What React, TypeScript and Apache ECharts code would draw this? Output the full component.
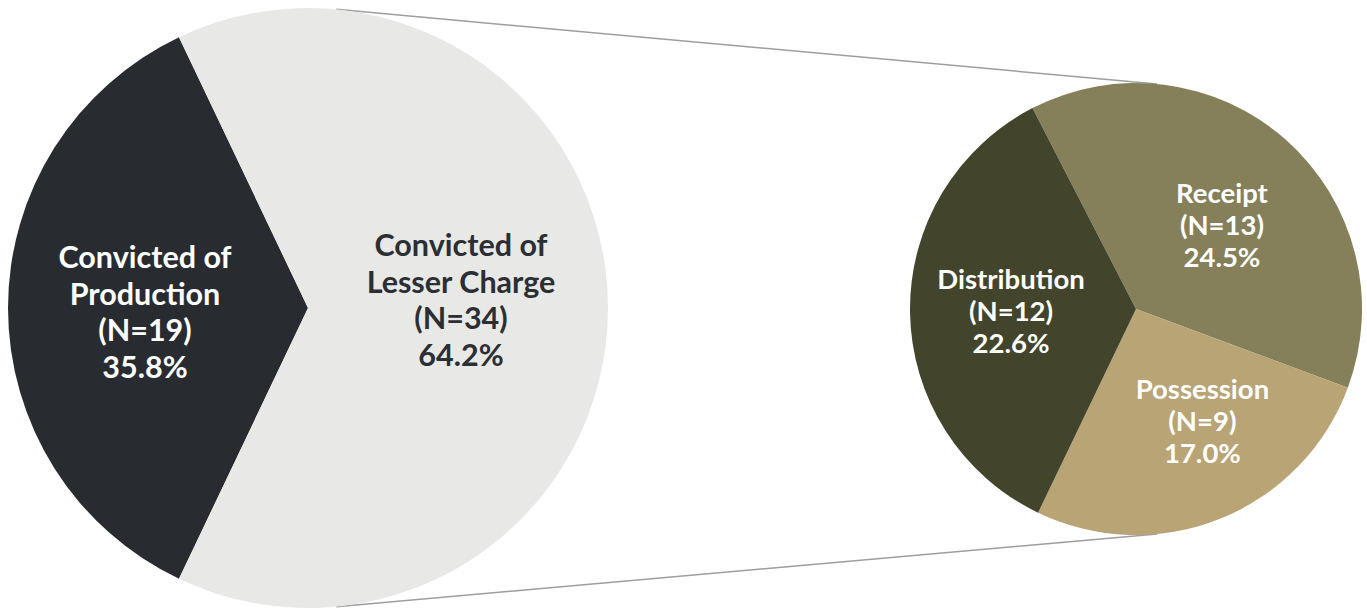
import React, { useEffect, useRef } from "react";
import * as echarts from "echarts";

const leftCategories = ["Convicted of\nProduction", "Convicted of\nLesser Charge"];
const leftValues = [19, 34];
const rightCategories = ["Receipt", "Possession", "Distribution"];
const rightValues = [13, 9, 12];

const leftColors = ["#282c30", "#e8e8e6"];
const leftLabelColors = ["#ffffff", "#2b2f33"];
const rightColors = ["#858059", "#b8a474", "#42442c"];

export default function App() {
  const ref = useRef<HTMLDivElement>(null);
  useEffect(() => {
    if (!ref.current) return;
    const chart = echarts.init(ref.current, null, { renderer: "svg" });
    const total = leftValues.reduce((a, b) => a + b, 0);
    const body = (p: any) => `${p.name}\n(N=${p.value})\n${((p.value / total) * 100).toFixed(1)}%`;
    const mkFmt = (shifts: number[]) => (p: any) => {
      const d = shifts[p.dataIndex] || 0;
      if (d > 0) return `{sp|}\n${body(p)}`;
      if (d < 0) return `${body(p)}\n{sp|}`;
      return body(p);
    };

    const L = { cx: 308, cy: 308, r: 300 };
    const R = { cx: 1136, cy: 309, r: 226 };
    const connAngle = (84.6 * Math.PI) / 180;
    const pt = (c: any, sign: number) => [c.cx + c.r * Math.cos(connAngle), c.cy - sign * c.r * Math.sin(connAngle)];
    const lt = pt(L, 1), lb = pt(L, -1), rt = pt(R, 1), rb = pt(R, -1);

    const leftStart = 180 + (leftValues[0] / total) * 180;
    const rightTotal = rightValues.reduce((a, b) => a + b, 0);
    const rightStart = 180 - (rightValues[2] / rightTotal) * 180 + 0.8;

    const leftPads = [[0, 20, 0, 0], [0, 0, 0, 0]];
    const leftShiftY = [3, -9];
    const rightPads = [[0, 0, 0, 18], [0, 0, 0, 46], [0, 18, 0, 0]];
    const rightShiftY = [2, 4, 0];

    chart.setOption({
      animation: false,
      graphic: [
        { type: "line", z: 0, shape: { x1: lt[0], y1: lt[1], x2: rt[0], y2: rt[1] }, style: { stroke: "#9e9e9e", lineWidth: 1.5 } },
        { type: "line", z: 0, shape: { x1: lb[0], y1: lb[1], x2: rb[0], y2: rb[1] }, style: { stroke: "#9e9e9e", lineWidth: 1.5 } },
      ],
      series: [
        {
          type: "pie",
          center: [L.cx, L.cy],
          radius: [0, L.r],
          startAngle: leftStart,
          clockwise: true,
          silent: true,
          labelLine: { show: false },
          label: {
            position: "inside",
            formatter: mkFmt(leftShiftY),
            fontFamily: "Lato",
            fontWeight: "bold",
            fontSize: 30.5,
            lineHeight: 36.5,
            align: "center",
          },
          data: leftValues.map((v, i) => ({
            name: leftCategories[i],
            value: v,
            itemStyle: { color: leftColors[i] },
            label: {
              color: leftLabelColors[i],
              padding: leftPads[i],
              rich: { sp: { lineHeight: Math.abs(leftShiftY[i]) * 2, fontSize: 1 } },
            },
          })),
        },
        {
          type: "pie",
          center: [R.cx, R.cy],
          radius: [0, R.r],
          startAngle: rightStart,
          clockwise: true,
          silent: true,
          labelLine: { show: false },
          label: {
            position: "inside",
            formatter: mkFmt(rightShiftY),
            fontFamily: "Lato",
            fontWeight: "bold",
            fontSize: 27.5,
            lineHeight: 32,
            color: "#ffffff",
            align: "center",
          },
          data: rightValues.map((v, i) => ({
            name: rightCategories[i],
            value: v,
            itemStyle: { color: rightColors[i] },
            label: {
              padding: rightPads[i],
              rich: { sp: { lineHeight: Math.abs(rightShiftY[i]) * 2, fontSize: 1 } },
            },
          })),
        },
      ],
    });
    return () => chart.dispose();
  }, []);
  return (
    <div
      ref={ref}
      style={{ position: "fixed", left: 0, top: 0, width: 1367, height: 612, background: "#ffffff" }}
    />
  );
}
